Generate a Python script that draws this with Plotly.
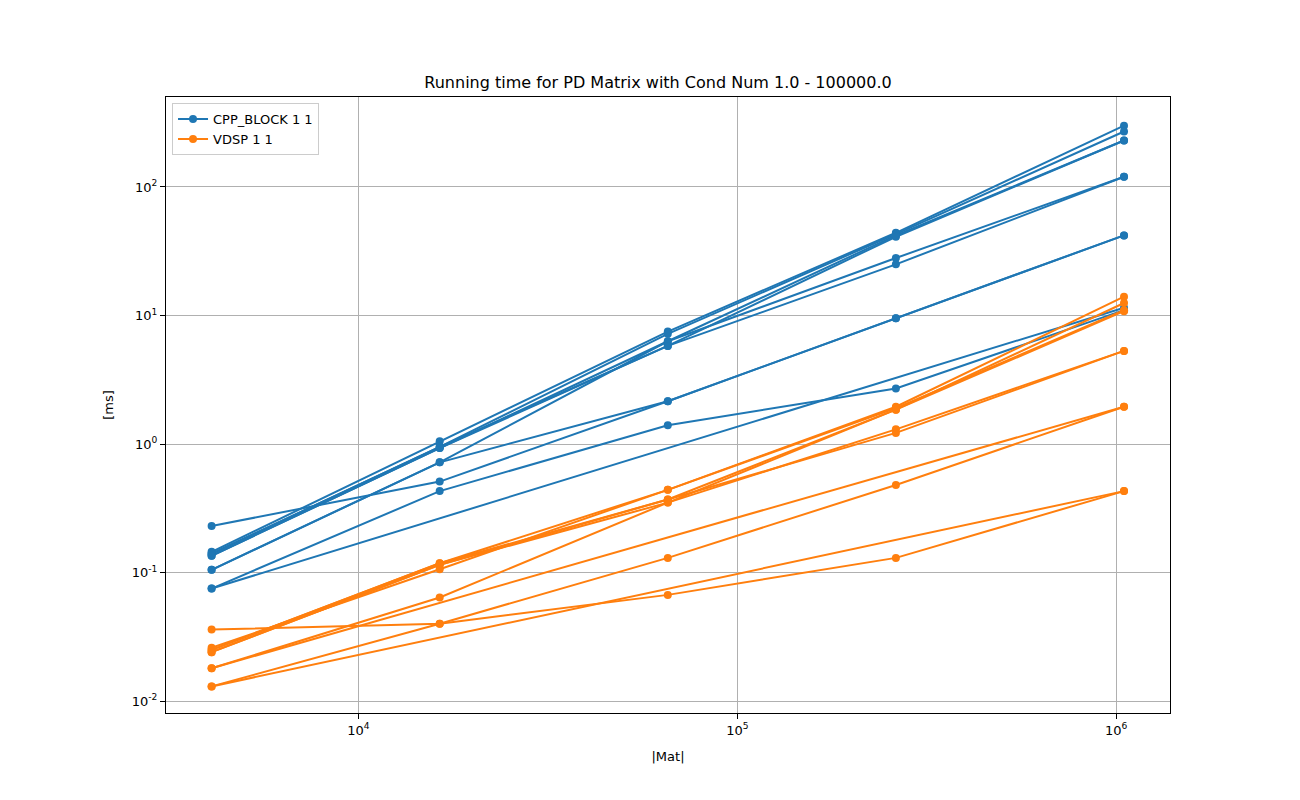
import plotly.graph_objects as go

# matrix sizes (64^2 .. 1024^2)
SIZES = [4096, 16384, 65536, 262144, 1048576]

# CPP_BLOCK runs, each run: (x values, y values in ms)
cpp_runs = [
    (SIZES, [0.145, 1.05, 7.5, 44, 300]),
    (SIZES, [0.14, 0.95, 7.2, 43, 270]),
    (SIZES, [0.135, 0.93, 6.3, 42, 230]),
    (SIZES, [0.14, 0.95, 5.8, 41, 230]),
    (SIZES, [0.105, 0.72, 6.3, 28, 120]),
    (SIZES, [0.135, 0.93, 5.8, 25, 120]),
    (SIZES, [0.105, 0.72, 2.15, 9.5, 42]),
    (SIZES, [0.23, 0.51, 2.15, 9.5, 42]),
    (SIZES, [0.075, 0.43, 1.4, 2.7, 11]),
    ([4096, 1048576], [0.075, 11.5]),
]

# VDSP runs
vdsp_runs = [
    (SIZES, [0.025, 0.118, 0.44, 1.95, 14]),
    (SIZES, [0.025, 0.118, 0.37, 1.85, 12.5]),
    (SIZES, [0.024, 0.115, 0.35, 1.3, 5.3]),
    (SIZES, [0.024, 0.115, 0.37, 1.22, 5.3]),
    (SIZES, [0.026, 0.106, 0.44, 1.9, 11]),
    (SIZES, [0.018, 0.064, 0.35, 1.85, 10.8]),
    ([4096, 1048576], [0.018, 1.95]),
    (SIZES, [0.036, 0.040, 0.067, 0.13, 0.43]),
    (SIZES, [0.013, 0.040, 0.13, 0.48, 1.95]),
    ([4096, 1048576], [0.013, 0.43]),
]

SERIES = [("CPP_BLOCK 1 1", "#1f77b4", cpp_runs), ("VDSP 1 1", "#ff7f0e", vdsp_runs)]

fig = go.Figure()
for name, color, runs in SERIES:
    for i, (xs, ys) in enumerate(runs):
        fig.add_trace(go.Scatter(
            x=xs, y=ys, mode="lines+markers", name=name,
            legendgroup=name, showlegend=(i == 0),
            line=dict(color=color, width=2),
            marker=dict(color=color, size=8),
        ))

axis_common = dict(
    type="log", showline=True, linecolor="black", linewidth=1, mirror=True,
    ticks="outside", ticklen=5, tickcolor="black", automargin=False,
    showgrid=True, gridcolor="#b0b0b0", gridwidth=1, zeroline=False,
    tickfont=dict(size=13, color="black"),
)

fig.update_layout(
    width=1300, height=800,
    paper_bgcolor="white", plot_bgcolor="white",
    font=dict(family="DejaVu Sans", size=13, color="black"),
    title=dict(text="Running time for PD Matrix with Cond Num 1.0 - 100000.0",
               x=0.5, xanchor="center", y=0.9, yanchor="bottom", font=dict(size=16)),
    margin=dict(l=158, r=138, t=89, b=95),
    showlegend=True,
    legend=dict(x=0.006, y=0.99, xanchor="left", yanchor="top",
                bordercolor="#cccccc", borderwidth=1, bgcolor="white",
                tracegroupgap=0, font=dict(size=13)),
    xaxis=dict(axis_common, range=[3.492, 6.142],
               tickvals=[1e4, 1e5, 1e6],
               ticktext=["10<sup>4</sup>", "10<sup>5</sup>", "10<sup>6</sup>"],
               title=dict(text="|Mat|", font=dict(size=13))),
    yaxis=dict(axis_common, range=[-2.093, 2.70],
               tickvals=[1e-2, 1e-1, 1, 10, 100],
               ticktext=["10<sup>-2</sup>", "10<sup>-1</sup>", "10<sup>0</sup>",
                         "10<sup>1</sup>", "10<sup>2</sup>"],
               title=dict(text="[ms]", font=dict(size=13))),
)

fig.write_html("out.html")
